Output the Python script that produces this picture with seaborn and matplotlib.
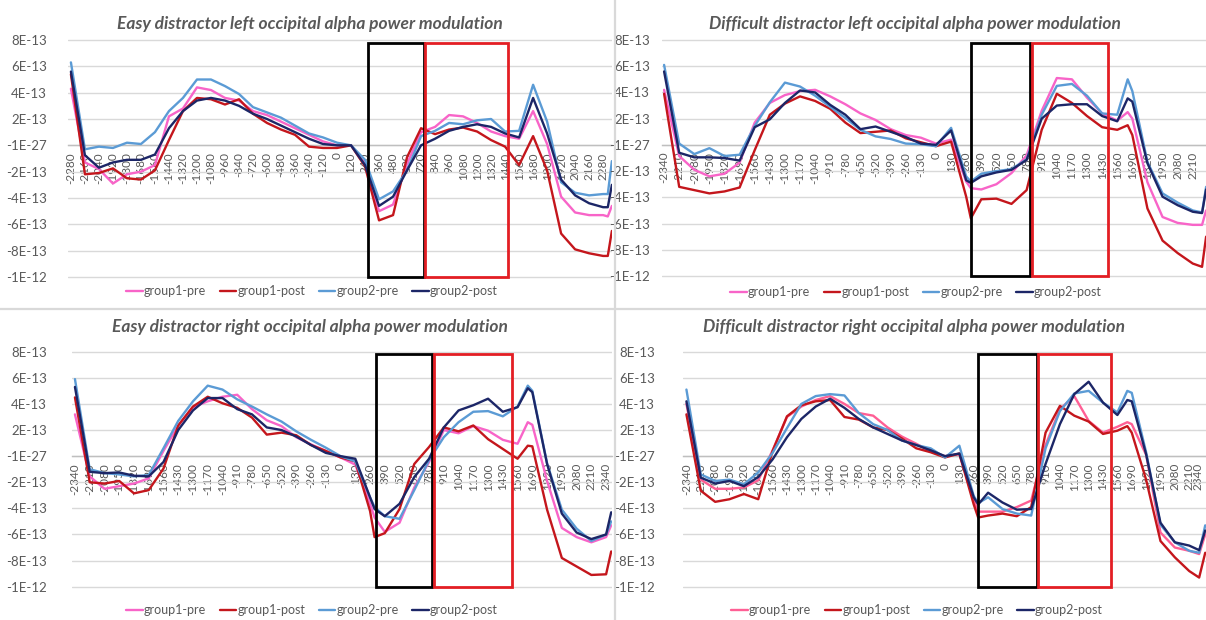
import pandas as pd
import matplotlib
matplotlib.use("Agg")
import matplotlib.pyplot as plt
from matplotlib.lines import Line2D
from matplotlib.patches import Rectangle
import seaborn as sns

# ---------------------------------------------------------------- data
# Alpha power values are stored in units of 1E-13; time in ms.
SCALE = 1e-13
SERIES = ["group1-pre", "group1-post", "group2-pre", "group2-post"]

# Easy distractor, left occipital
t_easy_left = [-2280, -2160, -2040, -1920, -1800, -1680, -1560, -1440, -1320, -1200,
               -1080, -960, -840, -720, -600, -480, -360, -240, -120, 0,
               120, 240, 360, 480, 600, 720, 840, 960, 1080, 1200,
               1320, 1440, 1560, 1680, 1800, 1920, 2040, 2160, 2280, 2320, 2355]
easy_left_g1_pre = [4.3, -1.3, -1.8, -2.9, -2.2, -2.0, -1.5, 2.2, 2.8, 4.4,
                    4.2, 3.6, 3.4, 2.6, 2.3, 1.8, 1.3, 0.8, 0.3, 0.0,
                    0.0, -1.4, -5.0, -4.5, -1.4, 1.0, 1.4, 2.3, 2.2, 1.7,
                    1.05, 0.7, 0.5, 2.6, 0.1, -3.9, -5.1, -5.3, -5.3, -5.4, -4.6]
easy_left_g1_post = [5.4, -2.2, -2.1, -1.75, -2.5, -2.6, -1.9, 0.4, 2.6, 3.6,
                     3.5, 3.1, 3.5, 2.4, 1.7, 1.2, 0.8, -0.1, -0.2, -0.2,
                     0.0, -1.6, -5.7, -5.3, -0.9, 1.3, 0.85, 1.2, 1.35, 1.05,
                     0.4, -0.1, -1.5, 0.7, -1.9, -6.7, -7.9, -8.2, -8.4, -8.4, -6.5]
easy_left_g2_pre = [6.3, -0.3, -0.1, -0.2, 0.2, 0.1, 1.0, 2.6, 3.6, 5.0,
                    5.0, 4.5, 3.9, 2.9, 2.5, 2.1, 1.5, 0.9, 0.6, 0.2,
                    0.0, -1.1, -4.1, -3.5, -1.9, 0.7, 1.1, 1.7, 1.6, 1.9,
                    2.0, 1.05, 1.1, 4.6, 1.8, -2.8, -3.6, -3.8, -3.7, -3.7, -1.2]
easy_left_g2_post = [5.6, -0.75, -1.7, -1.3, -1.1, -1.1, -0.7, 1.3, 2.6, 3.4,
                     3.6, 3.4, 3.0, 2.4, 2.0, 1.5, 1.0, 0.5, 0.1, 0.0,
                     0.0, -1.5, -4.6, -3.9, -1.9, 0.0, 0.5, 1.1, 1.4, 1.6,
                     1.4, 0.9, 0.6, 3.6, 0.9, -2.6, -3.8, -4.4, -4.7, -4.7, -3.0]

# Difficult distractor, left occipital
t_diff_left = [-2340, -2210, -2080, -1950, -1820, -1690, -1560, -1430, -1300, -1170,
               -1040, -910, -780, -650, -520, -390, -260, -130, 0,
               130, 260, 300, 390, 520, 650, 780, 910, 1040, 1170,
               1300, 1430, 1560, 1650, 1690, 1820, 1950, 2080, 2210, 2290, 2325]
diff_left_g1_pre = [4.2, -0.85, -1.9, -2.4, -2.2, -1.35, 1.7, 3.2, 3.8, 4.1,
                    4.2, 3.7, 3.1, 2.4, 1.9, 1.2, 0.75, 0.55, 0.1,
                    0.4, -2.8, -3.3, -3.4, -3.0, -2.15, -0.8, 2.6, 5.1, 5.0,
                    3.6, 2.4, 1.85, 2.5, 2.0, -2.85, -5.5, -5.95, -6.1, -6.1, -5.0]
diff_left_g1_post = [3.9, -3.2, -3.45, -3.7, -3.55, -3.25, -0.4, 2.3, 3.15, 3.7,
                     3.35, 2.75, 1.7, 0.9, 1.0, 1.1, 0.5, 0.2, -0.1,
                     0.25, -3.95, -5.6, -4.15, -4.1, -4.5, -3.45, 1.15, 3.9, 3.2,
                     2.2, 1.35, 1.15, 1.5, 0.75, -4.85, -7.3, -8.25, -9.05, -9.3, -7.0]
diff_left_g2_pre = [6.1, 0.1, -0.7, -0.25, -0.85, -0.75, 1.45, 3.25, 4.75, 4.45,
                    3.75, 2.9, 2.05, 1.15, 0.65, 0.45, 0.1, 0.05, -0.1,
                    1.3, -2.4, -2.8, -2.2, -2.0, -1.85, -1.1, 2.3, 4.5, 4.65,
                    3.75, 2.4, 2.3, 5.0, 4.1, -1.3, -3.7, -4.4, -5.0, -5.15, -3.2]
diff_left_g2_post = [5.6, -0.6, -0.95, -0.95, -1.0, -1.2, 1.35, 1.95, 3.2, 4.15,
                     4.0, 3.05, 2.3, 1.2, 1.4, 1.0, 0.6, 0.1, 0.0,
                     1.1, -2.7, -2.9, -2.4, -2.1, -1.9, -1.15, 2.0, 3.0, 3.1,
                     3.1, 2.2, 1.8, 3.55, 3.3, -1.4, -3.95, -4.6, -5.1, -5.2, -3.4]

# Easy distractor, right occipital
t_easy_right = [-2340, -2210, -2080, -1950, -1820, -1690, -1560, -1430, -1300, -1170,
                -1040, -910, -780, -650, -520, -390, -260, -130, 0,
                130, 260, 300, 390, 520, 650, 780, 910, 1040, 1170,
                1300, 1430, 1560, 1650, 1690, 1820, 1950, 2080, 2210, 2340, 2385]
easy_right_g1_pre = [3.2, -1.55, -2.5, -2.3, -2.1, -1.7, 0.4, 2.35, 3.75, 4.2,
                     4.55, 4.7, 3.6, 2.75, 2.3, 1.45, 0.9, 0.4, -0.1,
                     -0.65, -3.65, -4.7, -5.8, -5.1, -2.4, -0.45, 2.0, 1.75, 2.3,
                     1.95, 1.25, 0.95, 2.6, 2.4, -1.9, -5.5, -6.2, -6.6, -6.2, -5.3]
easy_right_g1_post = [4.5, -2.0, -2.1, -1.9, -2.85, -2.6, -0.95, 2.35, 3.8, 4.55,
                      4.05, 3.7, 2.95, 1.65, 1.8, 1.6, 0.85, 0.4, -0.1,
                      -0.4, -4.2, -6.2, -5.9, -4.05, -0.6, 0.7, 2.2, 1.9, 2.35,
                      1.3, 0.55, -0.2, 0.8, 0.75, -4.1, -7.8, -8.45, -9.1, -9.05, -7.3]
easy_right_g2_pre = [5.9, -1.0, -1.3, -1.4, -1.55, -1.45, 0.6, 2.7, 4.2, 5.4,
                     5.1, 4.35, 3.8, 3.2, 2.65, 1.9, 1.25, 0.65, 0.0,
                     -0.4, -3.15, -3.9, -4.6, -4.8, -2.6, -0.3, 1.45, 2.6, 3.4,
                     3.45, 3.05, 3.8, 5.4, 5.0, -0.55, -4.1, -5.55, -6.5, -6.0, -5.0]
easy_right_g2_post = [5.3, -1.2, -1.3, -1.25, -1.5, -1.55, -0.45, 2.0, 3.5, 4.45,
                      4.45, 3.6, 3.2, 2.2, 2.0, 1.5, 0.85, 0.25, 0.0,
                      -0.2, -3.15, -4.05, -4.6, -3.65, -1.6, -0.2, 2.2, 3.5, 3.9,
                      4.4, 3.4, 3.75, 5.2, 4.9, -0.6, -4.4, -5.85, -6.35, -6.0, -4.3]

# Difficult distractor, right occipital
t_diff_right = [-2340, -2210, -2080, -1950, -1820, -1690, -1560, -1430, -1300, -1170,
                -1040, -910, -780, -650, -520, -390, -260, -130, 0,
                130, 260, 300, 390, 520, 650, 780, 910, 1040, 1170,
                1300, 1430, 1560, 1650, 1690, 1820, 1950, 2080, 2210, 2300, 2355]
diff_right_g1_pre = [4.0, -1.8, -2.5, -2.5, -2.4, -1.85, 0.45, 3.0, 3.8, 4.3,
                     4.6, 4.0, 3.3, 3.1, 2.2, 1.5, 0.95, 0.35, 0.0,
                     0.15, -3.35, -4.25, -4.25, -4.25, -3.9, -3.4, 0.85, 3.6, 4.6,
                     2.7, 1.8, 2.25, 2.6, 2.45, 0.1, -5.85, -7.0, -7.25, -7.5, -6.0]
diff_right_g1_post = [3.2, -2.65, -3.5, -3.3, -2.9, -3.3, 0.4, 3.05, 3.9, 4.2,
                      4.3, 3.0, 2.8, 2.2, 2.0, 1.35, 0.6, 0.3, -0.1,
                      0.2, -3.7, -4.7, -4.55, -4.4, -4.6, -3.9, 1.8, 3.85, 3.1,
                      2.65, 1.7, 1.95, 2.3, 1.8, -1.8, -6.5, -7.75, -8.8, -9.3, -7.4]
diff_right_g2_pre = [5.1, -1.4, -1.9, -1.8, -2.15, -1.25, 0.25, 2.15, 4.0, 4.6,
                     4.75, 4.65, 3.3, 2.45, 2.0, 1.2, 0.85, 0.6, -0.1,
                     0.8, -3.05, -3.6, -3.15, -4.05, -4.4, -4.55, 0.6, 3.45, 4.8,
                     5.0, 4.1, 3.35, 5.0, 4.85, 0.3, -5.25, -6.6, -7.25, -7.4, -5.3]
diff_right_g2_post = [4.2, -1.65, -2.1, -1.9, -2.3, -1.6, -0.25, 1.45, 2.85, 3.8,
                      4.4, 3.7, 2.85, 2.2, 1.7, 1.2, 0.85, 0.45, 0.0,
                      0.2, -3.15, -3.7, -2.8, -3.55, -4.1, -4.05, -0.6, 2.45, 4.75,
                      5.7, 4.1, 3.15, 4.3, 4.2, 0.15, -5.1, -6.6, -6.85, -7.2, -5.7]

# Category labels along the time axis
ticks_120 = [-2280, -2160, -2040, -1920, -1800, -1680, -1560, -1440, -1320, -1200,
             -1080, -960, -840, -720, -600, -480, -360, -240, -120, 0,
             120, 240, 360, 480, 600, 720, 840, 960, 1080, 1200,
             1320, 1440, 1560, 1680, 1800, 1920, 2040, 2160, 2280]
ticks_130 = [-2340, -2210, -2080, -1950, -1820, -1690, -1560, -1430, -1300, -1170,
             -1040, -910, -780, -650, -520, -390, -260, -130, 0,
             130, 260, 390, 520, 650, 780, 910, 1040, 1170, 1300,
             1430, 1560, 1690, 1820, 1950, 2080, 2210, 2340]

# Value axis (Excel-style number format, the zero line reads -1E-27)
y_ticks = [8, 6, 4, 2, 0, -2, -4, -6, -8, -10]
y_tick_labels = ["8E-13", "6E-13", "4E-13", "2E-13", "-1E-27",
                 "-2E-13", "-4E-13", "-6E-13", "-8E-13", "-1E-12"]

# Analysis windows (ms): early window (black) and late window (red)
win_easy_left = [(268, 745), (757, 1468)]
win_diff_left = [(301, 806), (823, 1483)]
win_easy_right = [(310, 808), (824, 1514)]
win_diff_right = [(296, 835), (845, 1502)]

# ---------------------------------------------------------------- style
W, H = 1206, 620
GRAY_TXT = "#595959"
GRID = "#d9d9d9"

sns.set_theme(style="white")
FONT = "Lato"
plt.rcParams["font.family"] = [FONT, "DejaVu Sans"]

fig = plt.figure(figsize=(W / 100, H / 100), dpi=100)
fig.patch.set_facecolor("white")


def px_rect(x0, y0, x1, y1, pad_units=0.25):
    ppu = (y1 - y0) / 18.0
    y0p, y1p = y0 - pad_units * ppu, y1 + pad_units * ppu
    return [x0 / W, 1 - y1p / H, (x1 - x0) / W, (y1p - y0p) / H]


panels = [
    dict(title="Easy distractor left occipital alpha power modulation",
         t=t_easy_left,
         series=[easy_left_g1_pre, easy_left_g1_post, easy_left_g2_pre, easy_left_g2_post],
         ticks=ticks_120, win=win_easy_left,
         box=(68, 40, 612, 277), xlim=(-2305, 2356), ypad=21,
         title_xy=(310, 24), legend_xy=(312, 291),
         colors=["#F864C8", "#C4161C", "#5B9BD5", "#1C2667"]),
    dict(title="Difficult distractor left occipital alpha power modulation",
         t=t_diff_left,
         series=[diff_left_g1_pre, diff_left_g1_post, diff_left_g2_pre, diff_left_g2_post],
         ticks=ticks_130, win=win_diff_left,
         box=(662, 40, 1206, 276), xlim=(-2358, 2324), ypad=12,
         title_xy=(915, 24), legend_xy=(916, 292),
         colors=["#F864C8", "#C4161C", "#5B9BD5", "#1C2667"]),
    dict(title="Easy distractor right occipital alpha power modulation",
         t=t_easy_right,
         series=[easy_right_g1_pre, easy_right_g1_post, easy_right_g2_pre, easy_right_g2_post],
         ticks=ticks_130, win=win_easy_right,
         box=(72, 351.7, 612, 586.7), xlim=(-2366, 2392), ypad=25,
         title_xy=(310, 327), legend_xy=(312, 610),
         colors=["#F864C8", "#C4161C", "#5B9BD5", "#1C2667"]),
    dict(title="Difficult distractor right occipital alpha power modulation",
         t=t_diff_right,
         series=[diff_right_g1_pre, diff_right_g1_post, diff_right_g2_pre, diff_right_g2_post],
         ticks=ticks_130, win=win_diff_right,
         box=(683, 351.7, 1206, 586.7), xlim=(-2371, 2362), ypad=28,
         title_xy=(914, 327), legend_xy=(917, 610),
         colors=["#FF5F95", "#C4161C", "#5B9BD5", "#1C2667"]),
]

for p in panels:
    ax = fig.add_axes(px_rect(*p["box"]))
    ax.set_facecolor("none")

    frames = []
    for name, vals in zip(SERIES, p["series"]):
        frames.append(pd.DataFrame({"time": p["t"],
                                    "power": [v * SCALE for v in vals],
                                    "series": name}))
    df = pd.concat(frames, ignore_index=True)
    palette = dict(zip(SERIES, p["colors"]))
    sns.lineplot(data=df, x="time", y="power", hue="series", hue_order=SERIES,
                 palette=palette, estimator=None, errorbar=None, sort=False,
                 linewidth=1.7, legend=False, ax=ax, zorder=3)

    ppu_pad = 0.25
    ax.set_ylim((-10 - ppu_pad) * SCALE, (8 + ppu_pad) * SCALE)
    ax.set_xlim(*p["xlim"])

    # horizontal gridlines
    ax.set_yticks([v * SCALE for v in y_ticks])
    ax.set_yticklabels(y_tick_labels)
    ax.yaxis.grid(True, color=GRID, linewidth=1.0, zorder=0)
    ax.xaxis.grid(False)
    ax.set_axisbelow(True)
    ax.tick_params(axis="y", length=0, pad=p["ypad"] * 0.72,
                   labelsize=9.5, labelcolor=GRAY_TXT)

    # category axis crossing at zero; only categories inside the plot area
    for s in ("top", "right", "left"):
        ax.spines[s].set_visible(False)
    ax.spines["bottom"].set_position(("data", 0))
    ax.spines["bottom"].set_color("#bfbfbf")
    ax.spines["bottom"].set_linewidth(1.0)
    ax.spines["bottom"].set_zorder(1)
    shown = [v for v in p["ticks"] if p["xlim"][0] <= v <= p["xlim"][1] - 10]
    ax.set_xticks(shown)
    labels = ax.set_xticklabels([str(v) for v in shown], rotation=90,
                                va="top", ha="center")
    # keep the last category label fully inside the figure
    if p["xlim"][1] - shown[-1] < 40:
        labels[-1].set_ha("right")
    ax.tick_params(axis="x", length=0, pad=5, labelsize=8.5, labelcolor=GRAY_TXT)
    ax.set_xlabel("")
    ax.set_ylabel("")

    # analysis windows
    for (a, b), ec in zip(p["win"], ["black", "#E31E24"]):
        ax.add_patch(Rectangle((a, -10 * SCALE), b - a, 17.8 * SCALE,
                               fill=False, edgecolor=ec, linewidth=2.0,
                               zorder=5, clip_on=False))

    fig.text(p["title_xy"][0] / W, 1 - p["title_xy"][1] / H, p["title"],
             ha="center", va="center", fontsize=12.5, fontweight="bold",
             fontstyle="italic", color=GRAY_TXT)

    handles = [Line2D([0], [0], color=c, lw=1.7) for c in p["colors"]]
    ax.legend(handles, SERIES, ncol=4, loc="center",
              bbox_to_anchor=(p["legend_xy"][0] / W, 1 - p["legend_xy"][1] / H),
              bbox_transform=fig.transFigure, frameon=False, fontsize=9,
              labelcolor=GRAY_TXT, handlelength=1.3, handletextpad=0.1,
              columnspacing=1.1)

# panel separators
fig.add_artist(Line2D([615 / W, 615 / W], [0, 1], color=GRID, lw=1.6,
                      transform=fig.transFigure))
fig.add_artist(Line2D([0, 1], [1 - 309 / H, 1 - 309 / H], color=GRID, lw=1.6,
                      transform=fig.transFigure))

fig.savefig("out.png", dpi=100, facecolor="white")
